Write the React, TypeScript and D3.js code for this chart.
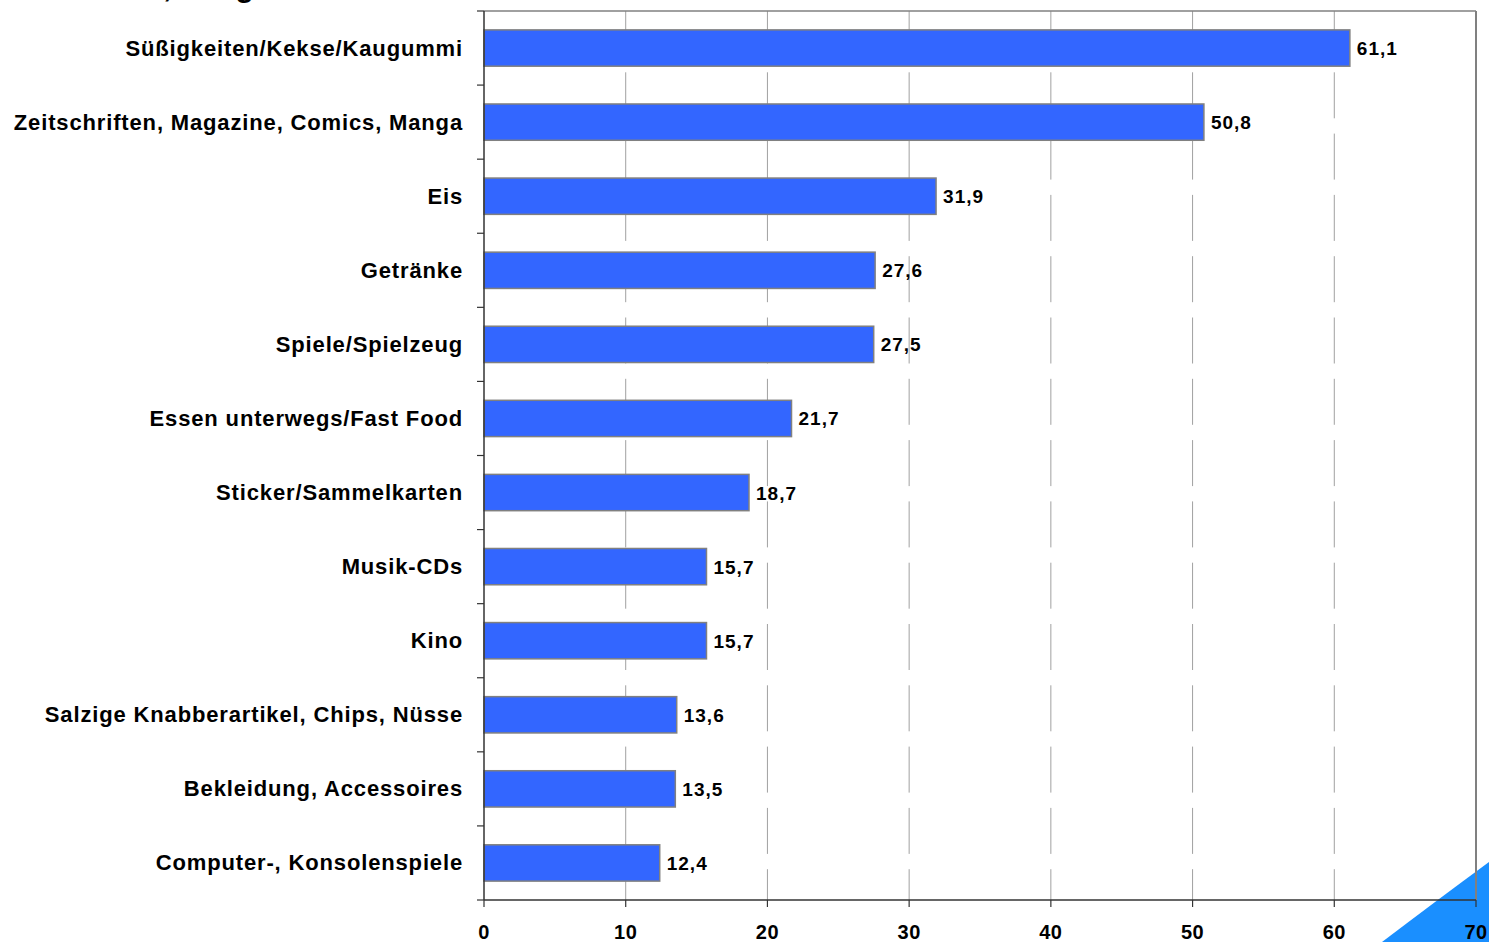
import React from "react";
import * as d3 from "d3";

const categories = [
  "Süßigkeiten/Kekse/Kaugummi",
  "Zeitschriften, Magazine, Comics, Manga",
  "Eis",
  "Getränke",
  "Spiele/Spielzeug",
  "Essen unterwegs/Fast Food",
  "Sticker/Sammelkarten",
  "Musik-CDs",
  "Kino",
  "Salzige Knabberartikel, Chips, Nüsse",
  "Bekleidung, Accessoires",
  "Computer-, Konsolenspiele",
];
const values = [61.1, 50.8, 31.9, 27.6, 27.5, 21.7, 18.7, 15.7, 15.7, 13.6, 13.5, 12.4];
const xTicks = [0, 10, 20, 30, 40, 50, 60, 70];

const W = 1489;
const H = 942;
const left = 484;
const right = 1476;
const top = 11;
const bottom = 900;
const font = "'Liberation Sans', Arial, Helvetica, sans-serif";

export default function App() {
  const x = d3.scaleLinear().domain([0, 70]).range([left, right]);
  const y = d3.scaleBand<string>().domain(categories).range([top, bottom]).paddingInner(0.51).paddingOuter(0.255);
  const band = d3.scaleBand<string>().domain(categories).range([top, bottom]);
  const fmt = (v: number) => v.toFixed(1).replace(".", ",");

  return (
    <svg width={W} height={H} style={{ position: "absolute", left: 0, top: 0, background: "#fff" }}>
      <path d={`M1382,${H} Q1440,898 ${W},862 L${W},${H} Z`} fill="#1a8fff" />
      <text x={70} y={-3} fontFamily={font} fontWeight="bold" fontSize={30} fill="#000">
        Kinder, Ausgaben
      </text>
      {xTicks.slice(1, -1).map((t) => (
        <line key={"g" + t} x1={x(t)} x2={x(t)} y1={top} y2={bottom} stroke="#a0a0a0" strokeWidth={1} strokeDasharray="46,15.3" />
      ))}
      <line x1={left} x2={right} y1={top} y2={top} stroke="#808080" strokeWidth={1.5} />
      <line x1={right} x2={right} y1={top} y2={bottom} stroke="#808080" strokeWidth={2} />
      {categories.map((c, i) => (
        <g key={c}>
          <rect
            x={x(0)}
            y={y(c)!}
            width={x(values[i]) - x(0)}
            height={y.bandwidth()}
            fill="#3366ff"
            stroke="#808080"
            strokeWidth={1.5}
          />
          <text x={x(values[i]) + 7} y={y(c)! + y.bandwidth() / 2 + 7} fontFamily={font} fontWeight="bold" fontSize={19} letterSpacing={1} fill="#000">
            {fmt(values[i])}
          </text>
          <text x={463} y={band(c)! + band.bandwidth() / 2 + 7.5} textAnchor="end" fontFamily={font} fontWeight="bold" fontSize={22} letterSpacing={0.85} fill="#000">
            {c}
          </text>
        </g>
      ))}
      {d3.range(categories.length + 1).map((i) => {
        const yy = top + i * band.step();
        return <line key={"yt" + i} x1={left - 7} x2={left} y1={yy} y2={yy} stroke="#333" strokeWidth={1.2} />;
      })}
      <line x1={left} x2={left} y1={top} y2={bottom} stroke="#333" strokeWidth={1.5} />
      <line x1={left} x2={right} y1={bottom} y2={bottom} stroke="#333" strokeWidth={1.5} />
      {xTicks.map((t) => (
        <g key={"xt" + t}>
          <line x1={x(t)} x2={x(t)} y1={bottom} y2={bottom + 7} stroke="#333" strokeWidth={1.2} />
          <text x={x(t)} y={939} textAnchor="middle" fontFamily={font} fontWeight="bold" fontSize={20} letterSpacing={0.5} fill="#000">
            {t}
          </text>
        </g>
      ))}
    </svg>
  );
}
